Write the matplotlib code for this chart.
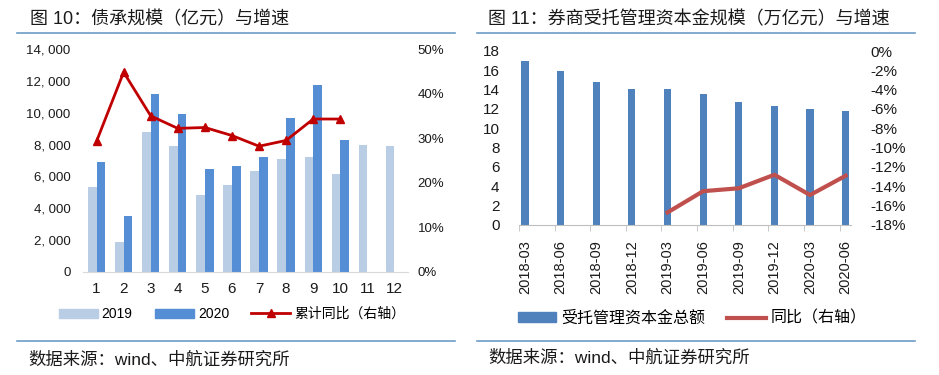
import matplotlib
matplotlib.use("Agg")
import matplotlib.pyplot as plt
from matplotlib.lines import Line2D
from matplotlib.patches import Patch
from matplotlib.ticker import FuncFormatter
import numpy as np

plt.rcParams['font.family'] = ['Liberation Sans', 'Noto Sans CJK SC', 'DejaVu Sans']

# ---- left chart: 债承规模 ----
months = ['1', '2', '3', '4', '5', '6', '7', '8', '9', '10', '11', '12']
v2019 = [5350, 1900, 8800, 7920, 4850, 5470, 6350, 7100, 7230, 6160, 7980, 7920]
v2020 = [6920, 3530, 11200, 9920, 6480, 6670, 7230, 9670, 11740, 8290]
yoy = [29.3, 44.8, 35.0, 32.2, 32.4, 30.6, 28.2, 29.5, 34.3, 34.3]

# ---- right chart: 受托管理资本金 ----
quarters = ['2018-03', '2018-06', '2018-09', '2018-12', '2019-03',
            '2019-06', '2019-09', '2019-12', '2020-03', '2020-06']
capital = [16.93, 15.9, 14.76, 14.04, 14.04, 13.52, 12.73, 12.28, 11.98, 11.77]
growth = [-16.7, -14.5, -14.2, -12.8, -14.9, -12.9]
growth_start = 4  # growth series begins at 2019-03

W, H = 939, 375
fig = plt.figure(figsize=(W / 100, H / 100), dpi=100)

rule_c = '#6C9DC6'
txt_c = '#1a1a1a'

def fx(px):
    return px / W

def fy(py):
    return 1 - py / H

def rule(x0, x1, y):
    fig.add_artist(Line2D([fx(x0), fx(x1)], [fy(y), fy(y)], color=rule_c, lw=1.2))

# titles, rules, source
fig.text(fx(30), fy(20), '图 10：债承规模（亿元）与增速', fontsize=13, va='center', color=txt_c)
fig.text(fx(488), fy(20), '图 11：券商受托管理资本金规模（万亿元）与增速', fontsize=13, va='center', color=txt_c)
rule(17, 455, 33)
rule(477, 915, 33)
rule(17, 455, 341)
rule(477, 915, 341)
src = '数据来源：wind、中航证券研究所'
fig.text(fx(28), fy(360), src, fontsize=12.5, va='center', color=txt_c)
fig.text(fx(488), fy(358), src, fontsize=12.5, va='center', color=txt_c)

# ---------- left ----------
ax1 = fig.add_axes([fx(83), fy(272), fx(408) - fx(83), fy(49) - fy(272)])
x = np.arange(len(months))
bw = 0.32
c19, c20 = '#B9CDE5', '#558ED5'
ax1.bar(x - bw / 2, v2019, bw, color=c19, label='2019')
ax1.bar(x[:len(v2020)] + bw / 2, v2020, bw, color=c20, label='2020')
ax1.set_xlim(-0.5, len(months) - 0.5)
ax1.set_ylim(0, 14000)
ax1.set_yticks(np.arange(0, 14001, 2000))
ax1.yaxis.set_major_formatter(FuncFormatter(lambda v, p: f'{int(v):,}'.replace(',', ', ')))
ax1.set_xticks(x)
ax1.set_xticklabels(months)
for s in ['top', 'left', 'right']:
    ax1.spines[s].set_visible(False)
ax1.spines['bottom'].set_color('#D9D9D9')
ax1.tick_params(axis='y', length=0, pad=9, labelsize=9.5, labelcolor=txt_c)
ax1.tick_params(axis='x', length=0, pad=7, labelsize=11, labelcolor=txt_c)

ax1r = ax1.twinx()
ln1, = ax1r.plot(x[:len(yoy)], yoy, color='#C00000', lw=2, marker='^', ms=5.5, label='累计同比（右轴）')
ax1r.set_ylim(0, 50)
ax1r.set_yticks(np.arange(0, 51, 10))
ax1r.yaxis.set_major_formatter(FuncFormatter(lambda v, p: f'{int(v)}%'))
for s in ['top', 'left', 'right', 'bottom']:
    ax1r.spines[s].set_visible(False)
ax1r.tick_params(axis='y', length=0, pad=7, labelsize=9.5, labelcolor=txt_c)

fig.legend(handles=[Patch(color=c19, label='2019'), Patch(color=c20, label='2020'), ln1],
           loc='center', bbox_to_anchor=(fx(232), fy(314)), ncol=3, frameon=False,
           fontsize=10, handlelength=2.8, handleheight=0.6, columnspacing=1.6,
           handletextpad=0.3)

# ---------- right ----------
ax2 = fig.add_axes([fx(519), fy(225), fx(851) - fx(519), fy(51) - fy(225)])
q = np.arange(len(quarters))
cb = '#4F81BD'
ax2.bar(q, capital, 0.2, color=cb, label='受托管理资本金总额')
ax2.set_xlim(-0.17, len(quarters) - 0.85)
ax2.set_ylim(0, 18)
ax2.set_yticks(np.arange(0, 19, 2))
ax2.set_xticks(q)
ax2.set_xticklabels(quarters, rotation=90)
ax2.set_xticks(q - 0.17, minor=True)
for s in ['top', 'left', 'right']:
    ax2.spines[s].set_visible(False)
ax2.spines['bottom'].set_color('#BFBFBF')
ax2.tick_params(axis='x', which='major', length=0, pad=11, labelsize=10.5, labelcolor=txt_c)
ax2.tick_params(axis='x', which='minor', length=4, color='#BFBFBF', direction='out')
ax2.tick_params(axis='y', length=0, pad=14, labelsize=11, labelcolor=txt_c)

ax2r = ax2.twinx()
ln2, = ax2r.plot(q[growth_start:growth_start + len(growth)], growth, color='#C0504D', lw=3,
                 label='同比（右轴）')
ax2r.set_ylim(-18, 0)
ax2r.set_yticks(np.arange(-18, 1, 2))
ax2r.yaxis.set_major_formatter(FuncFormatter(lambda v, p: f'{int(round(v))}%'))
for s in ['top', 'left', 'right', 'bottom']:
    ax2r.spines[s].set_visible(False)
ax2r.tick_params(axis='y', length=0, pad=14, labelsize=11, labelcolor=txt_c)

fig.legend(handles=[Patch(color=cb, label='受托管理资本金总额'), ln2],
           loc='center', bbox_to_anchor=(fx(692), fy(318)), ncol=2, frameon=False,
           fontsize=11.5, handlelength=2.4, handleheight=0.5, columnspacing=1.4,
           handletextpad=0.3)

fig.savefig('out.png', dpi=100)
